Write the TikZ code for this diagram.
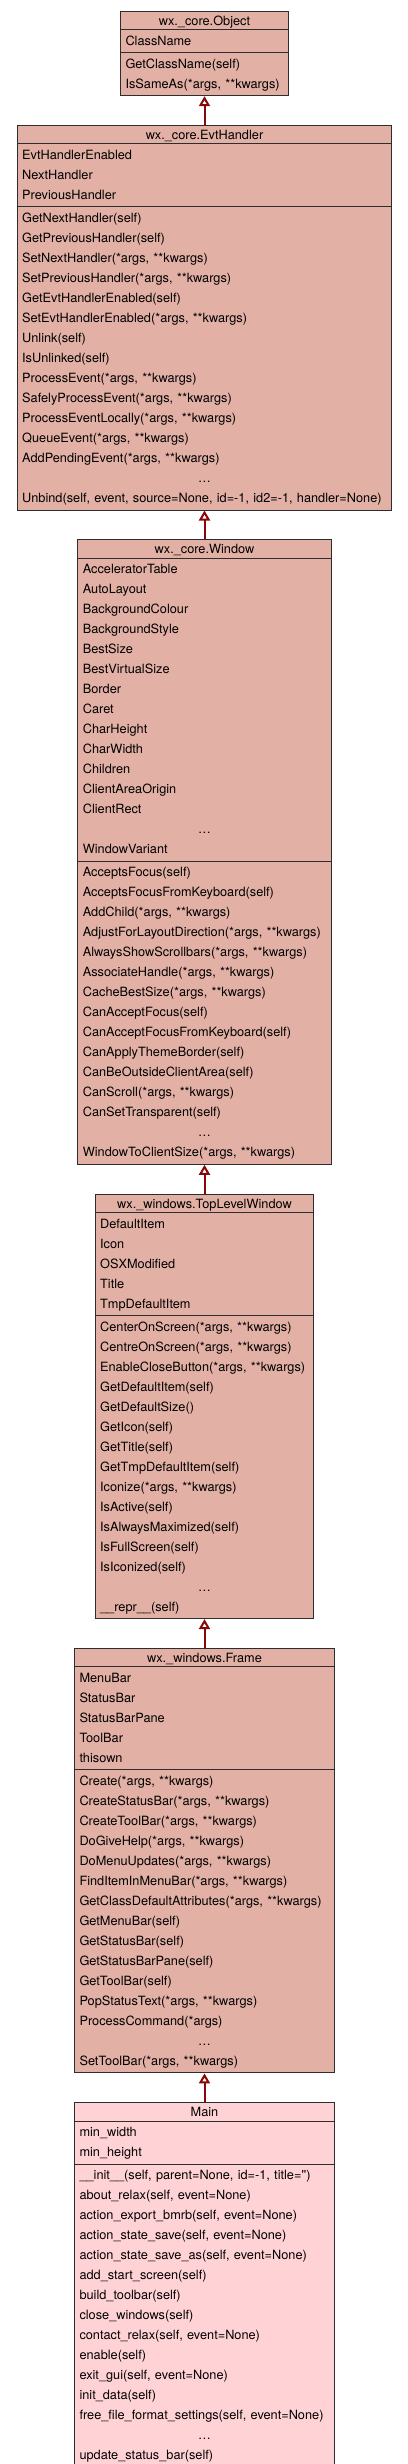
\documentclass[tikz,border=0pt]{standalone}
\usepackage{fontspec}
\setmainfont{TeX Gyre Heros}
\usetikzlibrary{positioning,shapes.multipart,arrows.meta}
\definecolor{basefill}{RGB}{226,176,164}
\definecolor{mainfill}{RGB}{255,211,214}
\definecolor{edgegray}{RGB}{45,45,45}
\definecolor{subred}{RGB}{136,8,8}
\def\hrow{\rule[-3pt]{0pt}{15.5pt}}
\def\brow{\rule[-6pt]{0pt}{20pt}}
\def\cname#1{\makebox[\linewidth]{\hrow#1}}
\def\more{\makebox[\linewidth]{\dots}}
\def\dsub{\draw[sub]}
\tikzset{
  cls/.style={rectangle split,rectangle split parts=3,draw=edgegray,line width=1pt,
    fill=basefill,text width=#1,align=left,inner xsep=5pt,inner ysep=1pt,
    font=\fontsize{12.75}{20}\selectfont},
  sub/.style={subred,line width=2pt,-{Triangle[open,length=10pt,width=11pt]}}
}
\begin{document}
\begin{tikzpicture}[x=1pt,y=-1pt,node distance=28.8pt]
        \useasboundingbox (0,0) rectangle (407,2464);
        \node[cls=158pt,anchor=north] (obj) at (204.5,10.7) {\cname{wx.\_core.Object}
            \nodepart{two}\brow ClassName\brow
            \nodepart{three}\brow GetClassName(self)\\
            IsSameAs(*args, **kwargs)\brow};
        \node[cls=364.6pt,below=of obj] (evt) {\cname{wx.\_core.EvtHandler}
            \nodepart{two}\brow EvtHandlerEnabled\\ NextHandler\\ PreviousHandler\brow
            \nodepart{three}\brow GetNextHandler(self)\\ GetPreviousHandler(self)\\
            SetNextHandler(*args, **kwargs)\\ SetPreviousHandler(*args, **kwargs)\\
            GetEvtHandlerEnabled(self)\\ SetEvtHandlerEnabled(*args, **kwargs)\\
            Unlink(self)\\ IsUnlinked(self)\\ ProcessEvent(*args, **kwargs)\\
            SafelyProcessEvent(*args, **kwargs)\\ ProcessEventLocally(*args, **kwargs)\\
            QueueEvent(*args, **kwargs)\\ AddPendingEvent(*args, **kwargs)\\ \more\\
            Unbind(self, event, source=None, id=-1, id2=-1, handler=None)\brow};
        \node[cls=243.3pt,below=of evt] (win) {\cname{wx.\_core.Window}
            \nodepart{two}\brow AcceleratorTable\\ AutoLayout\\ BackgroundColour\\
            BackgroundStyle\\ BestSize\\ BestVirtualSize\\ Border\\ Caret\\ CharHeight\\
            CharWidth\\ Children\\ ClientAreaOrigin\\ ClientRect\\ \more\\ WindowVariant\brow
            \nodepart{three}\brow AcceptsFocus(self)\\ AcceptsFocusFromKeyboard(self)\\
            AddChild(*args, **kwargs)\\ AdjustForLayoutDirection(*args, **kwargs)\\
            AlwaysShowScrollbars(*args, **kwargs)\\ AssociateHandle(*args, **kwargs)\\
            CacheBestSize(*args, **kwargs)\\ CanAcceptFocus(self)\\
            CanAcceptFocusFromKeyboard(self)\\ CanApplyThemeBorder(self)\\
            CanBeOutsideClientArea(self)\\ CanScroll(*args, **kwargs)\\
            CanSetTransparent(self)\\ \more\\ WindowToClientSize(*args, **kwargs)\brow};
        \node[cls=208.7pt,below=of win] (tlw) {\cname{wx.\_windows.TopLevelWindow}
            \nodepart{two}\brow DefaultItem\\ Icon\\ OSXModified\\ Title\\ TmpDefaultItem\brow
            \nodepart{three}\brow CenterOnScreen(*args, **kwargs)\\
            CentreOnScreen(*args, **kwargs)\\ EnableCloseButton(*args, **kwargs)\\
            GetDefaultItem(self)\\ GetDefaultSize()\\ GetIcon(self)\\ GetTitle(self)\\
            GetTmpDefaultItem(self)\\ Iconize(*args, **kwargs)\\ IsActive(self)\\
            IsAlwaysMaximized(self)\\ IsFullScreen(self)\\ IsIconized(self)\\ \more\\
            \_\_repr\_\_(self)\brow};
        \node[cls=250pt,below=of tlw] (frame) {\cname{wx.\_windows.Frame}
            \nodepart{two}\brow MenuBar\\ StatusBar\\ StatusBarPane\\ ToolBar\\ thisown\brow
            \nodepart{three}\brow Create(*args, **kwargs)\\
            CreateStatusBar(*args, **kwargs)\\ CreateToolBar(*args, **kwargs)\\
            DoGiveHelp(*args, **kwargs)\\ DoMenuUpdates(*args, **kwargs)\\
            FindItemInMenuBar(*args, **kwargs)\\
            GetClassDefaultAttributes(*args, **kwargs)\\ GetMenuBar(self)\\
            GetStatusBar(self)\\ GetStatusBarPane(self)\\ GetToolBar(self)\\
            PopStatusText(*args, **kwargs)\\ ProcessCommand(*args)\\ \more\\
            SetToolBar(*args, **kwargs)\brow};
        \node[cls=250pt,fill=mainfill,below=of frame] (main) {\cname{Main}
            \nodepart{two}\brow min\_width\\ min\_height\brow
            \nodepart{three}\brow \_\_init\_\_(self, parent=None, id=-1, title=\textquotesingle\textquotesingle)\\
            about\_relax(self, event=None)\\ action\_export\_bmrb(self, event=None)\\
            action\_state\_save(self, event=None)\\
            action\_state\_save\_as(self, event=None)\\ add\_start\_screen(self)\\
            build\_toolbar(self)\\ close\_windows(self)\\
            contact\_relax(self, event=None)\\ enable(self)\\
            exit\_gui(self, event=None)\\ init\_data(self)\\
            free\_file\_format\_settings(self, event=None)\\ \more\\
            update\_status\_bar(self)\brow};
        \dsub (evt.north) -- (obj.south);
        \dsub (win.north) -- (evt.south);
        \dsub (tlw.north) -- (win.south);
        \dsub (frame.north) -- (tlw.south);
        \dsub (main.north) -- (frame.south);
\end{tikzpicture}
\end{document}
